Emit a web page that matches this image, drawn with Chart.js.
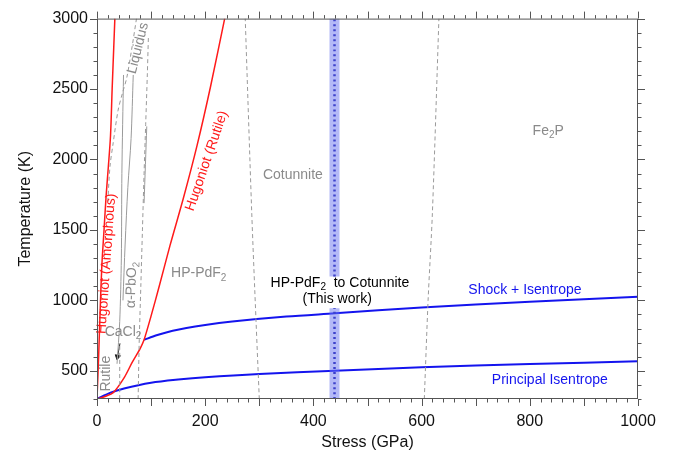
<!DOCTYPE html>
<html>
<head>
<meta charset="utf-8">
<script src="https://cdn.jsdelivr.net/npm/chart.js@4.4.1/dist/chart.umd.min.js"></script>
<style>
  html, body { margin: 0; padding: 0; background: #fff; }
  #wrap { width: 682px; height: 456px; }
</style>
</head>
<body>
<div id="wrap"><canvas id="canva"></canvas></div>
<script>
// Datos (Stress en GPa, Temperatura en K)
const rutileHugP = [0, 15, 30, 50, 65, 80, 87, 100, 115, 135, 160, 185, 210, 236];
const rutileHugT = [300, 318, 345, 450, 560, 660, 720, 890, 1100, 1390, 1730, 2100, 2520, 3000];

const amorphHugP = [0, 3, 6, 9, 13, 17, 21, 25, 28, 31, 33];
const amorphHugT = [300, 600, 950, 1250, 1500, 1750, 1950, 2170, 2500, 2800, 3000];

const shockIsenP = [87, 110, 140, 200, 250, 350, 440, 600, 800, 1000];
const shockIsenT = [720, 752, 785, 825, 850, 885, 908, 950, 990, 1025];

const princIsenP = [0, 25, 50, 100, 150, 200, 300, 440, 600, 800, 1000];
const princIsenT = [300, 345, 375, 415, 438, 455, 478, 500, 525, 548, 568];

const liquidusP = [20, 24, 30, 39, 47, 55, 64, 73];
const liquidusT = [1700, 1950, 2120, 2350, 2470, 2580, 2780, 3000];

const rutCaclP = [42, 42];
const rutCaclT = [300, 690];

const pbHpP = [76, 78, 81, 84, 87, 90, 93, 95];
const pbHpT = [300, 700, 1100, 1500, 1900, 2250, 2600, 2870];

const hpCotP = [300, 294, 286, 274];
const hpCotT = [300, 850, 1625, 3000];

const cotFeP = [605, 612, 620, 632];
const cotFeT = [300, 1000, 1625, 3000];

const solidAP = [37, 42, 45, 46, 49];
const solidAT = [550, 850, 1300, 1900, 2600];
const solidBP = [48, 52, 57, 63, 67];
const solidBT = [1000, 1400, 1800, 2150, 2600];
const solidCP = [87, 92];
const solidCT = [1690, 2235];

const arrowP = [42.5, 38];
const arrowT = [695, 600];

const bandP = 439;
const bandLowT = [300, 945];
const bandHighT = [1170, 3000];

const xTicks = [0, 200, 400, 600, 800, 1000];
const yTicks = [500, 1000, 1500, 2000, 2500, 3000];

const FONT = '"Liberation Sans", Arial, Helvetica, sans-serif';
const ROJO = "#ff1a1a";
const AZUL = "#1414ee";
const GRIS = "#9a9a9a";
const GRIS_TXT = "#8a8a8a";

function pts(px, ty) {
  return px.map((p, i) => ({ x: p, y: ty[i] }));
}

function serie(px, ty, color, width, dash) {
  return {
    data: pts(px, ty),
    borderColor: color,
    backgroundColor: color,
    borderWidth: width,
    borderDash: dash || [],
    showLine: true,
    pointRadius: 0,
    tension: 0.3,
    fill: false
  };
}

// Etiquetas de texto (posición en coordenadas de datos)
const etiquetas = [
  { t: "Hugoniot (Amorphous)", p: 17.5, T: 1260, c: ROJO, a: -86, s: 14 },
  { t: "Hugoniot (Rutile)", p: 203, T: 1990, c: ROJO, a: -71, s: 14 },
  { t: "Liquidus", p: 76, T: 2790, c: GRIS_TXT, a: -76, s: 14 },
  { t: "α-PbO_2", p: 64, T: 1110, c: GRIS_TXT, a: -88, s: 14 },
  { t: "CaCl_2", p: 48, T: 775, c: GRIS_TXT, a: 0, s: 14 },
  { t: "Rutile", p: 17, T: 480, c: GRIS_TXT, a: -90, s: 14 },
  { t: "HP-PdF_2", p: 188, T: 1190, c: GRIS_TXT, a: 0, s: 14 },
  { t: "Cotunnite", p: 362, T: 1890, c: GRIS_TXT, a: 0, s: 14 },
  { t: "Fe_2P", p: 834, T: 2200, c: GRIS_TXT, a: 0, s: 14 },
  { t: "HP-PdF_2  to Cotunnite", p: 449, T: 1125, c: "#000", a: 0, s: 14 },
  { t: "(This work)", p: 444, T: 1008, c: "#000", a: 0, s: 14 },
  { t: "Shock + Isentrope", p: 791, T: 1071, c: AZUL, a: 0, s: 14 },
  { t: "Principal Isentrope", p: 837, T: 433, c: AZUL, a: 0, s: 14 }
];

function partes(txt) {
  const out = [];
  let i = 0, buf = "";
  while (i < txt.length) {
    if (txt[i] === "_") {
      if (buf) out.push({ s: buf, sub: false });
      buf = "";
      out.push({ s: txt[i + 1], sub: true });
      i += 2;
    } else {
      buf += txt[i];
      i++;
    }
  }
  if (buf) out.push({ s: buf, sub: false });
  return out;
}

const textoPlugin = {
  id: "textos",
  afterDatasetsDraw(chart) {
    const ctx = chart.ctx;
    const xs = chart.scales.x, ys = chart.scales.y;
    etiquetas.forEach((e) => {
      const px = xs.getPixelForValue(e.p);
      const py = ys.getPixelForValue(e.T);
      const segs = partes(e.t);
      const fN = e.s + "px " + FONT;
      const fS = Math.round(e.s * 0.72) + "px " + FONT;
      let total = 0;
      segs.forEach((g) => {
        ctx.font = g.sub ? fS : fN;
        g.w = ctx.measureText(g.s).width;
        total += g.w;
      });
      ctx.save();
      ctx.translate(px, py);
      ctx.rotate((e.a * Math.PI) / 180);
      ctx.fillStyle = e.c;
      ctx.textBaseline = "middle";
      ctx.textAlign = "left";
      let cx = -total / 2;
      segs.forEach((g) => {
        ctx.font = g.sub ? fS : fN;
        ctx.fillText(g.s, cx, g.sub ? e.s * 0.3 : 0);
        cx += g.w;
      });
      ctx.restore();
    });
  }
};

// Marco y marcas de graduación en los cuatro lados
const marcoPlugin = {
  id: "marco",
  afterDraw(chart) {
    const ctx = chart.ctx;
    const a = chart.chartArea;
    const xs = chart.scales.x, ys = chart.scales.y;
    ctx.save();
    ctx.strokeStyle = "#555";
    ctx.lineWidth = 1;
    ctx.strokeRect(a.left + 0.5, a.top + 0.5, a.right - a.left - 1, a.bottom - a.top - 1);
    ctx.beginPath();
    for (let v = 0; v <= 1000; v += 20) {
      const x = Math.round(xs.getPixelForValue(v)) + 0.5;
      const l = v % 100 === 0 ? 7 : 3.5;
      ctx.moveTo(x, a.bottom); ctx.lineTo(x, a.bottom + l);
      ctx.moveTo(x, a.top); ctx.lineTo(x, a.top - l);
    }
    for (let v = 300; v <= 3000; v += 100) {
      const y = Math.round(ys.getPixelForValue(v)) + 0.5;
      const l = v % 500 === 0 ? 7 : 3.5;
      ctx.moveTo(a.left, y); ctx.lineTo(a.left - l, y);
      ctx.moveTo(a.right, y); ctx.lineTo(a.right + l, y);
    }
    ctx.stroke();
    ctx.restore();
  }
};

const flecha = serie(arrowP, arrowT, "#222", 1);
flecha.tension = 0;
flecha.pointRadius = [0, 3];
flecha.pointStyle = "triangle";
flecha.rotation = 191;

const bandaBaja = serie([bandP, bandP], bandLowT, "rgba(105,115,240,0.5)", 10);
const bandaAlta = serie([bandP, bandP], bandHighT, "rgba(105,115,240,0.5)", 10);
bandaBaja.borderCapStyle = "butt";
bandaAlta.borderCapStyle = "butt";
const puntosBaja = serie([bandP, bandP], bandLowT, "#1010a8", 2.5, [2, 3]);
const puntosAlta = serie([bandP, bandP], bandHighT, "#1010a8", 2.5, [2, 3]);

new Chart(document.getElementById("canva").getContext("2d"), {
  type: "scatter",
  data: {
    datasets: [
      bandaBaja, bandaAlta, puntosBaja, puntosAlta,
      serie(hpCotP, hpCotT, GRIS, 1, [4, 3]),
      serie(cotFeP, cotFeT, GRIS, 1, [4, 3]),
      serie(pbHpP, pbHpT, GRIS, 1, [4, 3]),
      serie(liquidusP, liquidusT, GRIS, 1, [4, 3]),
      serie(rutCaclP, rutCaclT, GRIS, 1, [4, 3]),
      serie(solidAP, solidAT, GRIS, 1),
      serie(solidBP, solidBT, GRIS, 1),
      serie(solidCP, solidCT, GRIS, 1),
      flecha,
      serie(amorphHugP, amorphHugT, ROJO, 1.5),
      serie(rutileHugP, rutileHugT, ROJO, 1.5),
      serie(princIsenP, princIsenT, AZUL, 2),
      serie(shockIsenP, shockIsenT, AZUL, 2)
    ]
  },
  options: {
    responsive: true,
    maintainAspectRatio: false,
    animation: false,
    layout: { padding: { top: 15, right: 44, left: 0, bottom: 0 } },
    plugins: { legend: { display: false }, tooltip: { enabled: false } },
    scales: {
      x: {
        type: "linear",
        min: 0,
        max: 1000,
        afterFit: (s) => { s.height = 57; },
        afterBuildTicks: (s) => { s.ticks = xTicks.map((v) => ({ value: v })); },
        grid: { display: false, drawTicks: false },
        border: { display: false },
        ticks: {
          padding: 13,
          color: "#111",
          font: { family: FONT, size: 16 },
          maxRotation: 0,
          callback: (v) => String(v)
        },
        title: {
          display: true,
          text: "Stress (GPa)",
          color: "#111",
          font: { family: FONT, size: 16 },
          padding: { top: 0, bottom: 4 }
        }
      },
      y: {
        type: "linear",
        min: 300,
        max: 3000,
        afterFit: (s) => { s.width = 97; },
        afterBuildTicks: (s) => { s.ticks = yTicks.map((v) => ({ value: v })); },
        grid: { display: false, drawTicks: false },
        border: { display: false },
        ticks: {
          padding: 9,
          color: "#111",
          font: { family: FONT, size: 16 },
          callback: (v) => String(v)
        },
        title: {
          display: true,
          text: "Temperature (K)",
          color: "#111",
          font: { family: FONT, size: 16 },
          padding: { top: 16, bottom: 0 }
        }
      }
    }
  },
  plugins: [textoPlugin, marcoPlugin]
});
</script>
</body>
</html>
